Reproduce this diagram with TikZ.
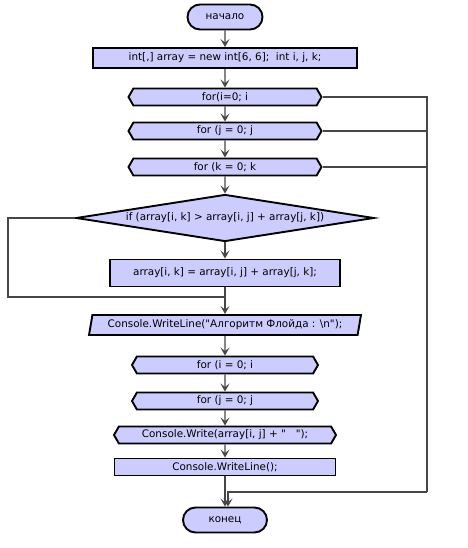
\documentclass[tikz,border=0pt]{standalone}
\usepackage{fontspec}
\setmainfont{DejaVu Sans}
\usetikzlibrary{arrows.meta,positioning,shapes.geometric,shapes.symbols,shapes.misc}

\definecolor{blockfill}{RGB}{204,204,255}
\definecolor{connline}{RGB}{70,70,70}

\begin{document}
\begin{tikzpicture}[
    x=1pt, y=-1pt,
    every node/.style={font=\fontsize{10.4}{12}\selectfont},
    blk/.style={draw, line width=1.9pt, fill=blockfill, inner sep=1pt},
    term/.style={blk, rounded rectangle, minimum width=77pt, minimum height=25pt},
    proc/.style={blk, rectangle, minimum height=20pt},
    loopbox/.style={blk, signal, signal to=west and east, signal pointer angle=120,
      minimum height=17pt},
    cond/.style={blk, diamond, aspect=6.3, inner sep=0pt,
      minimum width=298pt, minimum height=47pt},
    io/.style={blk, trapezium, trapezium left angle=76, trapezium right angle=104,
      trapezium stretches=true, minimum height=20pt},
    conn/.style={draw=connline, line width=1.3pt},
    arr/.style={conn, -{Stealth[length=8pt,width=9pt,inset=3.5pt]}}
  ]
  \useasboundingbox (0,0) rectangle (467,548);

  \node[term] (start) at (225,17) {начало};
  \node[proc, minimum width=264pt] (init) at (225,58)
    {int[,] array = new int[6, 6];\ \ int i, j, k;};
  \node[loopbox, minimum width=193pt] (fi) at (225,97) {for(i=0; i};
  \node[loopbox, minimum width=193pt] (fj) at (225,131) {for (j = 0; j};
  \node[loopbox, minimum width=193pt] (fk) at (225,167) {for (k = 0; k};
  \node[cond] (test) at (225,218) {if (array[i, k] > array[i, j] + array[j, k])};
  \node[proc, minimum width=230pt, minimum height=27pt] (upd) at (225,273)
    {array[i, k] = array[i, j] + array[j, k];};
  \node[io, minimum width=272pt] (title) at (225,325)
    {Console.WriteLine(\textquotedbl Алгоритм Флойда : \textbackslash n\textquotedbl);};
  \node[loopbox, minimum width=186pt] (pi) at (225,365) {for (i = 0; i};
  \node[loopbox, minimum width=186pt] (pj) at (225,401) {for (j = 0; j};
  \node[loopbox, minimum width=222pt] (pw) at (225,435)
    {Console.Write(array[i, j] + \textquotedbl\ \ \ \textquotedbl);};
  \node[proc, minimum width=221pt, minimum height=17pt] (nl) at (225,467)
    {Console.WriteLine();};
  \node[term, minimum width=86pt] (stop) at (225,520) {конец};

  \coordinate (jn) at (225,297);
  \coordinate (lt) at (8,297);
  \coordinate (rt) at (427,492);
  \coordinate (ret) at (228,492);

  \draw[arr] (start) -- (init);
  \draw[arr] (init) -- (fi);
  \draw[arr] (fi) -- (fj);
  \draw[arr] (fj) -- (fk);
  \draw[arr] (fk) -- (test);
  \draw[arr] (test) -- (upd);
  \draw[conn] (upd) -- (jn);
  \draw[conn] (test.west) -| (lt) -- (jn);
  \draw[arr] (jn) -- (title);
  \draw[arr] (title) -- (pi);
  \draw[arr] (pi) -- (pj);
  \draw[arr] (pj) -- (pw);
  \draw[arr] (pw) -- (nl);
  \draw[arr] (nl) -- (stop);
  \draw[conn] (fi.east) -| (rt);
  \draw[conn] (fj.east) -- (fj.east -| rt);
  \draw[conn] (fk.east) -- (fk.east -| rt);
  \draw[arr] (rt) -- (ret) -- (ret |- stop.north);
\end{tikzpicture}
\end{document}
